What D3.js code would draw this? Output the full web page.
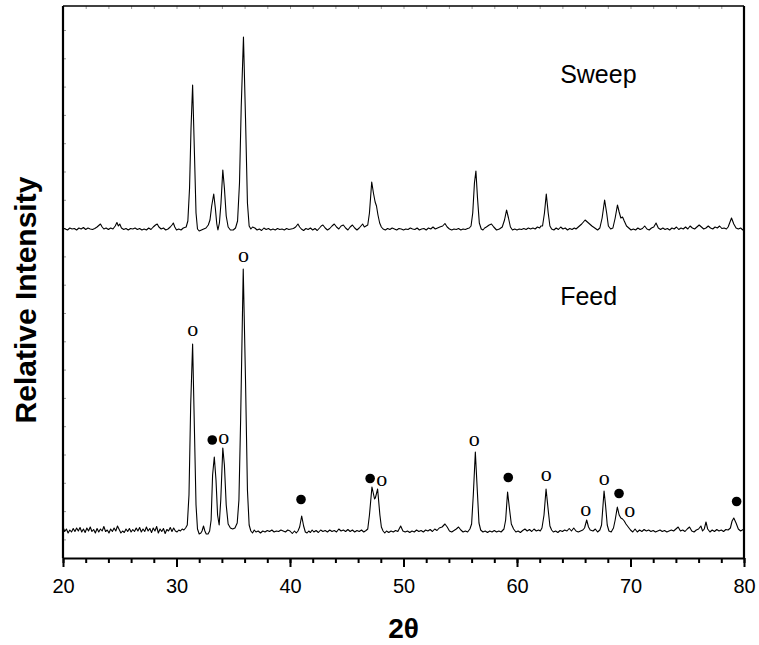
<!DOCTYPE html>
<html>
<head>
<meta charset="utf-8">
<script src="https://cdn.jsdelivr.net/npm/d3@7"></script>
<style>
  html, body { margin: 0; padding: 0; background: #fff; }
  svg { display: block; }
</style>
</head>
<body>
<svg id="chart" width="759" height="645"></svg>
<script>
// XRD patterns: 2θ (degrees) vs. counts above each pattern's own baseline
const feedTrace = [
  [20.0,6],[20.15,-3],[20.3,2],[20.45,-6],[20.6,0],[20.75,-4],[20.9,3],[21.05,-3],[21.2,4],[21.35,-2],
  [21.5,5],[21.65,-4],[21.8,2],[21.95,-5],[22.1,4],[22.25,-2],[22.4,6],[22.55,-3],[22.7,1],[22.85,-6],
  [23.0,3],[23.15,-4],[23.3,2],[23.45,-2],[23.6,7],[23.75,-3],[23.9,0],[24.05,-6],[24.2,2],[24.35,-3],
  [24.5,4],[24.65,-2],[24.8,8],[24.95,1],[25.1,-6],[25.25,-2],[25.4,-5],[25.55,2],[25.7,-3],[25.85,3],
  [26.0,-4],[26.15,1],[26.3,-3],[26.45,4],[26.6,-2],[26.75,5],[26.9,-4],[27.05,2],[27.2,-3],[27.35,6],
  [27.5,-2],[27.65,3],[27.8,-5],[27.95,4],[28.1,-2],[28.25,7],[28.4,-6],[28.55,2],[28.7,-3],[28.85,3],
  [29.0,-7],[29.15,1],[29.3,-2],[29.45,5],[29.6,-3],[29.75,4],[29.9,-2],[30.05,-4],[30.2,0],[30.35,-2],
  [30.5,2],[30.65,0],[30.8,4],[30.95,10],
  [31.1,70],[31.25,250],[31.42,372],[31.58,200],[31.72,50],[31.85,2],[32.0,-8],[32.15,-6],[32.25,-2],
  [32.38,8],[32.5,-2],[32.62,-8],[32.78,-8],[32.92,-2],[33.05,20],[33.18,110],[33.33,146],[33.48,100],
  [33.62,30],[33.76,10],[33.9,60],[34.08,164],[34.22,130],[34.38,50],[34.55,12],[34.75,4],[34.95,2],
  [35.15,4],[35.35,14],[35.5,60],[35.65,220],[35.88,522],[36.08,300],[36.25,80],[36.4,10],[36.55,-2],
  [36.7,-6],[36.85,0],[37.0,-4],[37.2,-2],[37.4,-6],[37.6,-2],[37.8,-4],[38.0,-1],[38.2,-3],[38.4,0],
  [38.6,-4],[38.8,-2],[39.0,-3],[39.2,0],[39.4,-2],[39.6,-4],[39.8,0],[40.0,-2],[40.2,-7],[40.4,-2],
  [40.55,-6],[40.7,-2],[40.85,6],[41.03,28],[41.2,8],[41.35,-4],[41.5,-6],[41.65,-2],[41.8,-5],[41.95,0],
  [42.1,-4],[42.3,-1],[42.5,-5],[42.7,0],[42.9,-3],[43.1,-1],[43.3,-4],[43.5,0],[43.7,-3],[43.9,-1],
  [44.1,-4],[44.3,2],[44.5,-2],[44.7,0],[44.9,-3],[45.1,1],[45.3,-3],[45.5,0],[45.7,-4],[45.9,-1],
  [46.1,-3],[46.3,0],[46.5,-4],[46.7,-1],[46.85,2],[47.0,30],[47.22,86],[47.45,62],[47.52,64],[47.72,82],
  [47.92,30],[48.05,6],[48.2,-2],[48.35,-6],[48.5,-2],[48.7,-5],[48.9,-2],[49.1,-4],[49.3,-1],[49.5,-3],
  [49.75,8],[49.95,-2],[50.15,-4],[50.35,-2],[50.55,-5],[50.75,-2],[50.95,-4],[51.15,0],[51.35,-3],[51.55,-1],
  [51.75,-4],[51.95,0],[52.15,-2],[52.35,1],[52.55,-3],[52.75,2],[52.95,-1],[53.15,4],[53.4,6],[53.65,12],
  [53.85,6],[54.05,-2],[54.25,-4],[54.45,-1],[54.65,2],[54.85,6],[55.05,0],[55.25,-4],[55.45,-2],[55.65,-4],
  [55.85,2],[56.0,12],[56.15,70],[56.33,156],[56.5,80],[56.65,14],[56.8,0],[57.0,-4],[57.2,-2],[57.4,-5],
  [57.6,-2],[57.8,-4],[58.0,-1],[58.2,-4],[58.4,-2],[58.6,-4],[58.85,2],[59.0,20],[59.17,76],[59.35,40],
  [59.5,12],[59.7,2],[59.9,-4],[60.1,-2],[60.3,-5],[60.5,-1],[60.7,2],[60.9,-2],[61.1,1],[61.3,-3],
  [61.5,2],[61.7,-2],[61.9,0],[62.05,-2],[62.2,4],[62.38,30],[62.56,82],[62.75,40],[62.9,8],[63.05,0],
  [63.2,-4],[63.4,-2],[63.6,-5],[63.8,-1],[64.0,-3],[64.2,0],[64.4,-2],[64.6,3],[64.8,-2],[65.0,4],
  [65.2,-2],[65.4,-4],[65.6,-2],[65.8,0],[65.95,4],[66.14,20],[66.3,6],[66.45,0],[66.7,-2],[66.9,2],
  [67.1,-4],[67.3,0],[67.45,10],[67.58,50],[67.67,78],[67.8,50],[67.95,10],[68.1,-2],[68.3,-4],[68.5,4],
  [68.65,20],[68.84,46],[69.0,30],[69.15,24],[69.3,22],[69.45,18],[69.6,12],[69.8,6],[70.0,0],[70.2,-4],
  [70.4,2],[70.6,-4],[70.8,0],[71.0,-3],[71.2,1],[71.4,-2],[71.6,0],[71.8,-3],[72.0,-1],[72.2,-4],
  [72.4,-2],[72.6,0],[72.8,-3],[73.0,-1],[73.2,-4],[73.4,-2],[73.6,0],[73.8,-2],[74.0,2],[74.2,6],
  [74.4,-2],[74.6,0],[74.8,-3],[75.0,2],[75.2,6],[75.4,-2],[75.6,-4],[75.8,0],[76.0,2],[76.2,8],
  [76.35,-2],[76.5,2],[76.65,16],[76.8,2],[77.0,-4],[77.2,0],[77.4,-3],[77.6,1],[77.8,-2],[78.0,0],
  [78.2,-3],[78.4,1],[78.6,0],[78.8,4],[78.95,18],[79.1,24],[79.3,14],[79.5,2],[79.7,-2],[79.85,0],
  [80.0,2]
];

const sweepTrace = [
  [20.0,0],[20.2,-2],[20.4,-4],[20.6,0],[20.8,-2],[21.0,-1],[21.2,-4],[21.4,0],[21.6,-2],[21.8,1],
  [22.0,-3],[22.2,0],[22.4,-2],[22.6,-3],[22.8,-1],[23.0,2],[23.15,5],[23.3,8],[23.45,2],[23.6,-2],
  [23.8,0],[24.0,-3],[24.2,0],[24.4,-2],[24.6,4],[24.75,11],[24.88,4],[25.0,8],[25.15,0],[25.35,-3],
  [25.55,-1],[25.75,-4],[25.95,-1],[26.15,-2],[26.35,0],[26.55,-3],[26.75,-1],[26.95,-4],[27.15,-2],[27.35,-4],
  [27.55,0],[27.75,-3],[27.95,2],[28.15,6],[28.3,8],[28.45,2],[28.65,-2],[28.85,0],[29.05,-4],[29.25,-2],
  [29.45,2],[29.6,6],[29.72,10],[29.85,2],[30.0,-4],[30.2,-2],[30.4,-4],[30.6,0],[30.85,2],[31.0,14],
  [31.15,80],[31.28,200],[31.42,286],[31.58,150],[31.72,30],[31.85,-2],[32.0,-6],[32.2,-4],[32.4,-2],
  [32.6,0],[32.8,6],[32.95,16],[33.1,44],[33.28,68],[33.42,40],[33.55,8],[33.65,-4],[33.78,10],[33.92,50],
  [34.08,116],[34.22,80],[34.38,24],[34.55,2],[34.75,-4],[35.0,-4],[35.2,0],[35.38,14],[35.55,90],
  [35.7,240],[35.9,382],[36.08,220],[36.25,50],[36.4,4],[36.55,-2],[36.7,2],[36.9,0],[37.1,-4],[37.3,-2],
  [37.5,-5],[37.7,0],[37.9,-3],[38.1,-1],[38.3,-4],[38.5,-2],[38.7,-4],[38.9,-1],[39.1,-3],[39.3,-2],
  [39.5,-4],[39.7,-1],[39.9,-3],[40.1,-2],[40.3,-1],[40.5,2],[40.7,8],[40.85,2],[41.0,-2],[41.2,-5],
  [41.4,-1],[41.6,-3],[41.8,0],[42.0,-4],[42.2,-1],[42.4,-5],[42.6,0],[42.75,4],[42.9,6],[43.1,0],
  [43.3,-4],[43.5,-1],[43.7,4],[43.9,8],[44.1,2],[44.3,-2],[44.5,4],[44.7,6],[44.9,0],[45.1,-4],
  [45.3,2],[45.5,6],[45.7,0],[45.9,-4],[46.1,0],[46.25,4],[46.4,8],[46.55,2],[46.7,4],[46.85,6],
  [47.0,30],[47.2,92],[47.35,70],[47.5,52],[47.62,44],[47.75,26],[47.9,10],[48.05,2],[48.2,-2],[48.4,-4],
  [48.6,-1],[48.8,-3],[49.0,0],[49.2,-2],[49.4,-4],[49.6,-1],[49.8,-2],[50.0,-4],[50.2,-2],[50.4,-3],
  [50.6,0],[50.8,-2],[51.0,-3],[51.2,0],[51.4,-4],[51.6,-2],[51.8,-1],[52.0,-4],[52.2,0],[52.4,-2],
  [52.6,2],[52.8,-2],[53.0,0],[53.2,2],[53.45,4],[53.65,9],[53.85,2],[54.05,-2],[54.25,-4],[54.45,-2],
  [54.65,-3],[54.85,-1],[55.05,-4],[55.25,-2],[55.45,-3],[55.65,-1],[55.8,0],[55.95,4],[56.1,30],
  [56.25,90],[56.38,114],[56.52,60],[56.68,10],[56.85,-2],[57.0,-4],[57.15,0],[57.3,2],[57.55,6],
  [57.75,8],[57.95,2],[58.2,-4],[58.45,-2],[58.7,2],[58.9,16],[59.08,36],[59.25,20],[59.42,2],[59.6,-4],
  [59.8,-2],[60.0,-4],[60.2,-2],[60.4,-3],[60.6,-1],[60.8,-3],[61.0,0],[61.2,-2],[61.4,0],[61.6,-2],
  [61.8,2],[62.0,0],[62.1,4],[62.25,4],[62.42,30],[62.58,68],[62.75,30],[62.9,4],[63.05,-2],[63.25,-4],
  [63.45,0],[63.65,-3],[63.85,2],[64.05,-2],[64.25,0],[64.45,-4],[64.65,-1],[64.85,-3],[65.05,0],[65.2,-2],
  [65.4,2],[65.7,8],[66.0,16],[66.3,10],[66.6,4],[66.85,0],[67.1,-4],[67.3,0],[67.5,20],[67.72,56],
  [67.9,30],[68.05,4],[68.25,-2],[68.45,0],[68.65,20],[68.85,46],[69.0,32],[69.15,20],[69.3,22],[69.45,14],
  [69.65,4],[69.85,0],[70.05,-4],[70.25,-2],[70.45,-4],[70.65,0],[70.85,-3],[71.05,-1],[71.25,4],[71.45,-2],
  [71.65,-4],[71.85,0],[72.05,2],[72.25,10],[72.45,0],[72.65,-3],[72.85,0],[73.05,-3],[73.25,-1],[73.45,-4],
  [73.65,0],[73.85,-2],[74.05,2],[74.25,-3],[74.45,0],[74.65,-2],[74.85,2],[75.05,-2],[75.25,4],[75.45,0],
  [75.65,-2],[75.85,2],[76.05,6],[76.25,2],[76.45,-2],[76.65,0],[76.85,4],[77.05,0],[77.25,-2],[77.45,2],
  [77.65,0],[77.85,4],[78.05,-1],[78.25,0],[78.45,-2],[78.6,2],[78.9,20],[79.1,8],[79.3,0],[79.5,-2],
  [79.7,0],[79.9,-4],[80.0,-2]
];

// vertical offsets that stack the two patterns
const patternNames = ["Feed", "Sweep"];
const patternOffsets = [56, 660];

// phase markers on the Feed pattern: "o" and "•" (filled circle)
const markerTheta  = [31.43, 35.9, 33.15, 34.16, 40.97, 47.06, 48.08, 56.24, 59.23, 62.58, 66.05, 67.69, 68.99, 69.93, 79.35];
const markerCounts = [460,   608,  236,   244,   117,   159,   160,   239,   161,   169,   99,    161,   129,   98,    113];
const markerKind   = ["o",   "o",  "dot", "o",   "dot", "dot", "o",   "o",   "dot", "o",   "o",   "o",   "dot", "o",   "dot"];

// pattern labels (left edge of text, baseline)
const labelTheta  = [63.8, 63.8];
const labelCounts = [506, 950];

// axis ticks
const xMajorTicks = [20, 30, 40, 50, 60, 70, 80];
const xMinorTicks = d3.range(20, 80.01, 2);

const W = 759, H = 645;
const margin = { left: 63, right: 15, top: 6, bottom: 87 };
const plotW = W - margin.left - margin.right;   // 681
const plotH = H - margin.top - margin.bottom;   // 552

const svg = d3.select("#chart");
svg.append("rect").attr("width", W).attr("height", H).attr("fill", "#fff");

const x = d3.scaleLinear().domain([20, 80]).range([margin.left, margin.left + plotW]);
const y = d3.scaleLinear().domain([0, 1104]).range([margin.top + plotH, margin.top]);

const font = "Liberation Sans, Arial, Helvetica, sans-serif";

// faint inner ticks on top and left edges
const topAxis = svg.append("g")
  .attr("transform", `translate(0,${margin.top})`)
  .call(d3.axisBottom(x).tickValues(xMinorTicks).tickSize(3).tickSizeOuter(0).tickFormat(""));
topAxis.select(".domain").remove();
topAxis.selectAll("line").attr("stroke", "#999").attr("stroke-width", 1);

const leftTickValues = d3.range(1056, 0, -56.6);
const leftAxis = svg.append("g")
  .attr("transform", `translate(${margin.left},0)`)
  .call(d3.axisRight(y).tickValues(leftTickValues).tickSize(3).tickSizeOuter(0).tickFormat(""));
leftAxis.select(".domain").remove();
leftAxis.selectAll("line").attr("stroke", "#999").attr("stroke-width", 1);

// patterns
const line = d3.line().x(d => x(d[0])).y(d => y(d[1]));
const traces = [feedTrace, sweepTrace];
traces.forEach((trace, i) => {
  const shifted = trace.map(d => [d[0], d[1] + patternOffsets[i]]);
  svg.append("path")
    .datum(shifted)
    .attr("d", line)
    .attr("fill", "none")
    .attr("stroke", "#000")
    .attr("stroke-width", 1.1)
    .attr("stroke-linejoin", "round");
});

// frame
svg.append("line")
  .attr("x1", x(20)).attr("x2", x(80)).attr("y1", y(1104)).attr("y2", y(1104))
  .attr("stroke", "#000").attr("stroke-width", 1.6);
svg.append("line")
  .attr("x1", x(20)).attr("x2", x(20)).attr("y1", y(1104)).attr("y2", y(0))
  .attr("stroke", "#000").attr("stroke-width", 2.2);
svg.append("line")
  .attr("x1", x(80)).attr("x2", x(80)).attr("y1", y(1104)).attr("y2", y(0))
  .attr("stroke", "#000").attr("stroke-width", 2.2);

// bottom axis: minor ticks then labelled major ticks
const bottomMinor = svg.append("g")
  .attr("transform", `translate(0,${y(0)})`)
  .call(d3.axisBottom(x).tickValues(xMinorTicks).tickSize(5).tickSizeOuter(0).tickFormat(""));
bottomMinor.select(".domain").remove();
bottomMinor.selectAll("line").attr("stroke", "#000").attr("stroke-width", 2);

const bottomMajor = svg.append("g")
  .attr("transform", `translate(0,${y(0)})`)
  .call(d3.axisBottom(x).tickValues(xMajorTicks).tickSize(9).tickSizeOuter(0).tickPadding(12).tickFormat(d3.format("d")));
bottomMajor.select(".domain").attr("stroke", "#000").attr("stroke-width", 2.2);
bottomMajor.selectAll("line").attr("stroke", "#000").attr("stroke-width", 2);
bottomMajor.selectAll("text")
  .attr("font-family", font).attr("font-size", 20).attr("fill", "#000");

// axis titles
svg.append("text")
  .attr("x", (x(20) + x(80)) / 2).attr("y", 638)
  .attr("text-anchor", "middle")
  .attr("font-family", font).attr("font-weight", "bold").attr("font-size", 28)
  .text("2θ");

svg.append("text")
  .attr("transform", `translate(36,${300}) rotate(-90)`)
  .attr("text-anchor", "middle")
  .attr("font-family", font).attr("font-weight", "bold").attr("font-size", 30)
  .text("Relative Intensity");

// pattern labels
patternNames.forEach((name, i) => {
  svg.append("text")
    .attr("x", x(labelTheta[i])).attr("y", y(labelCounts[i]))
    .attr("font-family", font).attr("font-size", 25)
    .text(name);
});

// phase markers
markerTheta.forEach((t, i) => {
  if (markerKind[i] === "dot") {
    svg.append("circle")
      .attr("cx", x(t)).attr("cy", y(markerCounts[i])).attr("r", 4.8)
      .attr("fill", "#000");
  } else {
    svg.append("text")
      .attr("x", x(t)).attr("y", y(markerCounts[i]))
      .attr("text-anchor", "middle").attr("dominant-baseline", "central")
      .attr("font-family", "Liberation Serif, Times New Roman, serif").attr("font-size", 22)
      .text("o");
  }
});
</script>
</body>
</html>
